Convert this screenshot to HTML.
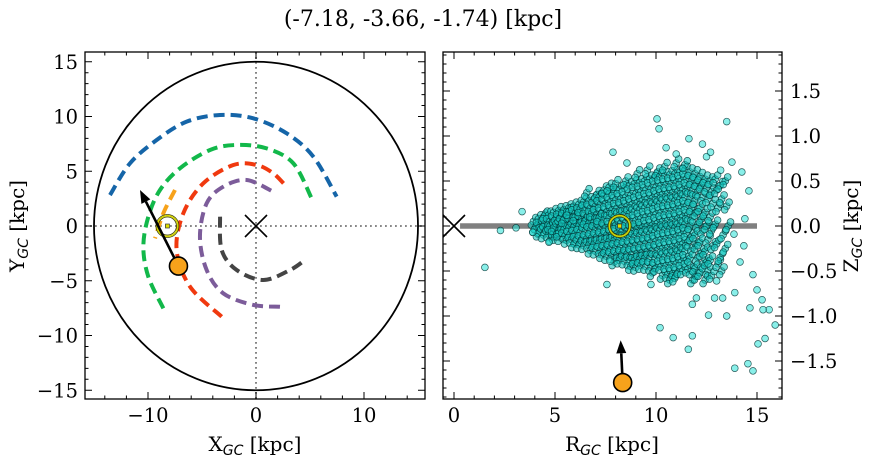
<!DOCTYPE html>
<html><head><meta charset="utf-8"><style>
html,body{margin:0;padding:0;background:#fff;}
svg{display:block;font-family:"DejaVu Serif","Liberation Serif",serif;}
</style></head><body>
<svg id="fig" width="874" height="464" viewBox="0 0 874 464" xmlns="http://www.w3.org/2000/svg">
<text x="423" y="26" font-size="22" text-anchor="middle">(-7.18, -3.66, -1.74) [kpc]</text>
<g id="left"></g>
<g id="right"></g>
<text x="255" y="451" font-size="20" text-anchor="middle">X<tspan font-size="14" font-style="italic" font-family="DejaVu Sans,sans-serif" dy="4">GC</tspan><tspan dy="-4"> [kpc]</tspan></text>
<text transform="translate(24,226) rotate(-90)" font-size="20" text-anchor="middle">Y<tspan font-size="14" font-style="italic" font-family="DejaVu Sans,sans-serif" dy="4">GC</tspan><tspan dy="-4"> [kpc]</tspan></text>
<text x="612" y="451" font-size="20" text-anchor="middle">R<tspan font-size="14" font-style="italic" font-family="DejaVu Sans,sans-serif" dy="4">GC</tspan><tspan dy="-4"> [kpc]</tspan></text>
<text transform="translate(858,226) rotate(-90)" font-size="20" text-anchor="middle">Z<tspan font-size="14" font-style="italic" font-family="DejaVu Sans,sans-serif" dy="4">GC</tspan><tspan dy="-4"> [kpc]</tspan></text>
</svg>
<script>
// ---- data: left panel (orbit traces, X/Y in kpc) ----
const blueX=[-13.52,-11.67,-9.2,-6.42,-3.33,-0.25,2.84,5.31,7.47];
const blueY=[2.83,5.72,7.85,9.53,10.14,9.83,8.46,6.33,2.68];
const greenX=[-8.58,-9.97,-10.43,-9.97,-8.89,-7.04,-4.26,-1.79,0.99,3.46,5.15];
const greenY=[-7.52,-4.63,-1.89,0.85,3.29,5.27,6.94,7.40,7.09,5.72,2.53];
const redX=[-3.18,-6.11,-7.35,-6.73,-4.88,-2.1,0.06,1.6,2.69];
const redY=[-8.28,-5.54,-2.19,1.16,3.90,5.57,5.57,4.81,3.74];
const purpleX=[2.22,-0.25,-3.03,-4.57,-5.19,-4.57,-3.03,-0.86,1.6];
const purpleY=[-7.37,-7.21,-6.15,-4.02,-0.97,2.07,3.59,4.2,3.13];
const grayX=[-3.33,-3.18,-1.79,0.68,3.15,4.54];
const grayY=[0.85,-2.19,-4.02,-4.93,-4.02,-3.1];
const orangeX=[-7.5,-8.58,-9.35];
const orangeY=[3.29,1.16,-1.13];
const sunXY=[-8.2,0];
const objXY=[-7.18,-3.66];
const velTipXY=[-10.74,3.29];
const xyTicks=[-10,0,10];
const yTicks=[-15,-10,-5,0,5,10,15];
// ---- data: right panel (R,z scatter) ----
const outR=[1.53,2.3,3.07,3.37,3.9,4.7,7.57,7.87,8.56,10.05,10.15,13.5,11.63,12.3,10.5,11,12.5,13.76,14.25,14.6,14.4,13.86,14.35,14.16,14.8,13.9,15,15.25,14.65,15.6,15.9,15.3,13.5,12.6,11.8,12.0,12.9,13.3,13.0,10.2,10.85,11.8,11.6,13.9,14.55,14.8,15.05,15.4,9.75,7.72,12.7,13.2];
const outZ=[-0.46,-0.05,-0.02,0.16,-0.07,-0.18,-0.65,0.82,0.70,1.19,1.08,1.16,0.97,0.91,0.87,0.8,0.77,0.71,0.6,0.39,0.08,-0.09,-0.22,-0.4,-0.54,-0.74,-0.71,-0.82,-0.91,-0.93,-1.1,-0.93,-1.0,-0.99,-0.87,-0.8,-0.8,-0.8,-0.61,-1.13,-1.24,-1.22,-1.37,-1.58,-1.53,-1.61,-1.31,-1.25,-0.65,-0.39,0.82,0.62];
const coreR=[4.0,4.25,4.5,4.75,5.0,5.25,5.5,5.75,6.0,6.25,6.5,6.75,7.0,7.25,7.5,7.75,8.0,8.25,8.5,8.75,9.0,9.25,9.5,9.75,10.0,10.25,10.5,10.75,11.0,11.25,11.5,11.75,12.0,12.25,12.5,12.75,13.0,13.25,13.5];
const coreZ=[
[0.05,-0.03,0.0],[0.08,-0.05,0.02,-0.08],[0.1,0.03,-0.04,-0.1,0.12],[0.12,0.05,-0.02,-0.09,0.0,-0.13],
[0.15,0.07,0.0,-0.06,-0.12,0.1,-0.02],[0.17,0.09,0.02,-0.05,-0.13,0.12,-0.08],[0.18,0.1,0.03,-0.04,-0.11,-0.16,0.07],
[0.2,0.12,0.05,-0.02,-0.09,-0.15,0.16],[0.22,0.14,0.06,-0.01,-0.08,-0.16,-0.2,0.1],[0.24,0.15,0.07,0.0,-0.07,-0.15,-0.21,0.19],
[0.27,0.18,0.1,0.02,-0.06,-0.14,-0.22,0.06,0.37],[0.28,0.2,0.11,0.03,-0.05,-0.13,-0.21,-0.27,0.14],
[0.3,0.22,0.13,0.04,-0.04,-0.12,-0.2,-0.28,0.35],[0.32,0.24,0.15,0.06,-0.03,-0.11,-0.19,-0.27,-0.32,0.09],
[0.34,0.25,0.16,0.07,-0.02,-0.1,-0.18,-0.26,-0.34,0.4],[0.36,0.27,0.18,0.09,0.0,-0.09,-0.17,-0.25,-0.33,0.43],
[0.38,0.29,0.2,0.1,0.01,-0.08,-0.16,-0.24,-0.32,-0.4,0.47],[0.4,0.3,0.21,0.12,0.03,-0.06,-0.15,-0.23,-0.31,-0.38],
[0.42,0.32,0.22,0.13,0.04,-0.05,-0.14,-0.23,-0.31,-0.39,0.5],[0.45,0.34,0.24,0.14,0.05,-0.04,-0.13,-0.22,-0.31,-0.4,-0.45],
[0.47,0.36,0.26,0.16,0.06,-0.03,-0.12,-0.21,-0.3,-0.38,-0.46,0.58],[0.48,0.38,0.28,0.18,0.08,-0.02,-0.11,-0.2,-0.29,-0.37,-0.44],
[0.5,0.4,0.3,0.2,0.1,0.0,-0.1,-0.19,-0.28,-0.36,-0.45,0.62],[0.52,0.41,0.31,0.21,0.11,0.01,-0.09,-0.18,-0.27,-0.36,-0.46,-0.52],
[0.54,0.43,0.33,0.23,0.13,0.03,-0.07,-0.17,-0.27,-0.37,-0.47,0.6],[0.55,0.45,0.35,0.25,0.15,0.05,-0.05,-0.15,-0.25,-0.35,-0.45,-0.55],
[0.56,0.46,0.36,0.26,0.16,0.06,-0.04,-0.14,-0.24,-0.34,-0.44,-0.54,0.66],[0.57,0.47,0.37,0.27,0.17,0.07,-0.03,-0.13,-0.23,-0.33,-0.43,-0.53,-0.6],
[0.58,0.48,0.38,0.28,0.18,0.08,-0.02,-0.12,-0.22,-0.32,-0.42,-0.52,-0.58,0.7],[0.6,0.5,0.4,0.3,0.2,0.1,0.0,-0.1,-0.2,-0.3,-0.4,-0.5],
[0.62,0.52,0.42,0.32,0.22,0.12,0.02,-0.08,-0.18,-0.28,-0.38,-0.48,0.68],[0.6,0.5,0.4,0.3,0.2,0.1,0.0,-0.12,-0.24,-0.36,-0.5,-0.6],
[0.58,0.48,0.38,0.28,0.15,0.02,-0.1,-0.22,-0.35,-0.47,-0.56],[0.55,0.45,0.32,0.2,0.08,-0.05,-0.18,-0.3,-0.42,-0.52],
[0.52,0.42,0.3,0.15,0.0,-0.15,-0.28,-0.4,-0.5,-0.6],[0.5,0.38,0.25,0.1,-0.05,-0.22,-0.38,-0.55],
[0.52,0.4,0.2,0.02,-0.2,-0.42],[0.45,0.3,-0.1,-0.35,-0.5],[0.5,0.22,0.0,-0.25]];
const rTicks=[0,5,10,15];
const zTicks=[-1.5,-1.0,-0.5,0.0,0.5,1.0,1.5];
const sunRZ=[8.2,0];
const objRZ=[8.35,-1.74];
const velTipRZ=[8.25,-1.27];
const planeR=[0.3,15];

const NS='http://www.w3.org/2000/svg';
function mk(parent,tag,attrs){const e=document.createElementNS(NS,tag);for(const k in attrs)e.setAttribute(k,attrs[k]);parent.appendChild(e);return e;}
function fmt(v,d){const s=v.toFixed(d);return v<0?'\u2212'+s.slice(1):s;}
function smooth(P){
  let d=`M${P[0][0]},${P[0][1]}`;
  for(let i=0;i<P.length-1;i++){
    const p0=P[Math.max(0,i-1)],p1=P[i],p2=P[i+1],p3=P[Math.min(P.length-1,i+2)];
    const c1=[p1[0]+(p2[0]-p0[0])/6,p1[1]+(p2[1]-p0[1])/6],c2=[p2[0]-(p3[0]-p1[0])/6,p2[1]-(p3[1]-p1[1])/6];
    d+=`C${c1[0]},${c1[1]} ${c2[0]},${c2[1]} ${p2[0]},${p2[1]}`;
  }
  return d;
}

// ---------- LEFT ----------
const L=document.getElementById('left');
const LX0=85,LX1=425,LY0=52,LY1=399;
const lx=v=>256+v*10.8, ly=v=>226-v*10.95;
let e;
e=mk(L,'line',{x1:LX0,x2:LX1,y1:ly(0),y2:ly(0),stroke:'#777','stroke-width':1.8,'stroke-dasharray':'1.8 3.2'});


e=mk(L,'line',{x1:lx(0),x2:lx(0),y1:LY0,y2:LY1,stroke:'#777','stroke-width':1.8,'stroke-dasharray':'1.8 3.2'});


e=mk(L,'ellipse',{cx:lx(0),cy:ly(0),rx:15*10.8,ry:15*10.95,fill:'none',stroke:'#000','stroke-width':1.8});


function orbit(xs,ys,color,name){
  const p=mk(L,'path',{d:smooth(xs.map((x,i)=>[lx(x),ly(ys[i])])),fill:'none',stroke:color,'stroke-width':4,'stroke-dasharray':'11 6'});
  
  
}
orbit(blueX,blueY,'#1565a8','orbit-blue');
orbit(greenX,greenY,'#12b84a','orbit-green');
orbit(redX,redY,'#f0390f','orbit-red');
orbit(purpleX,purpleY,'#7c5c9a','orbit-purple');
orbit(grayX,grayY,'#444','orbit-gray');
orbit(orangeX,orangeY,'#f7a21b','orbit-orange');
e=mk(L,'path',{d:`M${lx(0)-11},${ly(0)-11}L${lx(0)+11},${ly(0)+11}M${lx(0)-11},${ly(0)+11}L${lx(0)+11},${ly(0)-11}`,stroke:'#000','stroke-width':1.6});


function sun(g,sx,sy,name){
  const s=mk(g,'g',{});
  
  
  mk(s,'circle',{cx:sx,cy:sy,r:11.5,fill:'none',stroke:'#3b3b00','stroke-width':0.8});
  mk(s,'circle',{cx:sx,cy:sy,r:10.3,fill:'none',stroke:'#d4d400','stroke-width':1.6});
  mk(s,'circle',{cx:sx,cy:sy,r:9,fill:'none',stroke:'#3b3b00','stroke-width':0.8});
  mk(s,'rect',{x:sx-2,y:sy-2,width:4,height:4,fill:'#e0e000',stroke:'#333','stroke-width':0.7});
}
sun(L,lx(sunXY[0]),ly(sunXY[1]),'sun-marker');
function arrow(g,x0,y0,x1,y1,name){
  const a=mk(g,'g',{});
  
  
  const dx=x1-x0,dy=y1-y0,len=Math.hypot(dx,dy),ux=dx/len,uy=dy/len;
  const bx=x1-ux*13,by=y1-uy*13;
  mk(a,'line',{x1:x0,y1:y0,x2:bx,y2:by,stroke:'#000','stroke-width':2.6});
  mk(a,'polygon',{points:`${x1},${y1} ${bx-uy*5},${by+ux*5} ${bx+uy*5},${by-ux*5}`,fill:'#000'});
}
arrow(L,lx(objXY[0]),ly(objXY[1]),lx(velTipXY[0]),ly(velTipXY[1]),'velocity-arrow-xy');
e=mk(L,'circle',{cx:lx(objXY[0]),cy:ly(objXY[1]),r:9,fill:'#f7a21b',stroke:'#000','stroke-width':1.6});


e=mk(L,'rect',{x:LX0,y:LY0,width:LX1-LX0,height:LY1-LY0,fill:'none',stroke:'#000','stroke-width':1.3});


let tk='';
for(let v=-14;v<=14;v+=2){const X=lx(v),maj=v%10===0;const h=maj?7:3.5;tk+=`M${X},${LY1}v${-h}M${X},${LY0}v${h}`;}
for(let v=-15;v<=15;v+=1){const Y=ly(v),maj=v%5===0;const h=maj?7:3.5;tk+=`M${LX0},${Y}h${h}M${LX1},${Y}h${-h}`;}
e=mk(L,'path',{d:tk,stroke:'#000','stroke-width':1});


xyTicks.forEach(v=>{const t=mk(L,'text',{x:lx(v),y:422,'font-size':19.5,'text-anchor':'middle'});t.textContent=fmt(v,0);

});
yTicks.forEach(v=>{const t=mk(L,'text',{x:78,y:ly(v)+7,'font-size':19.5,'text-anchor':'end'});t.textContent=fmt(v,0);

});

// ---------- RIGHT ----------
const R=document.getElementById('right');
const RX0=443,RX1=782,RY0=52,RY1=399;
const rx=v=>454+v*20.2, rz=v=>226-v*90;
e=mk(R,'line',{x1:rx(planeR[0]),x2:rx(planeR[1]),y1:rz(0),y2:rz(0),stroke:'#808080','stroke-width':5.5});


const sc=mk(R,'g',{fill:'rgba(20,200,192,0.6)',stroke:'rgba(0,50,50,0.8)','stroke-width':0.7});


const offs=[[0,0],[0.12,0.045],[-0.1,-0.04]];
coreR.forEach((r,i)=>coreZ[i].forEach((z,j)=>{
  offs.forEach(o=>{
    const c=mk(sc,'circle',{cx:rx(r+((j%3)-1)*0.07+o[0]),cy:rz(z+o[1]),r:3.4});
    
    
  });
}));
outR.forEach((r,i)=>{
  const c=mk(sc,'circle',{cx:rx(r),cy:rz(outZ[i]),r:3.4,fill:'rgba(40,225,215,0.55)'});
  
  
});
e=mk(R,'path',{d:`M${rx(0)-11},${rz(0)-11}L${rx(0)+11},${rz(0)+11}M${rx(0)-11},${rz(0)+11}L${rx(0)+11},${rz(0)-11}`,stroke:'#000','stroke-width':1.6});


sun(R,rx(sunRZ[0]),rz(sunRZ[1]),'sun-marker-rz');
arrow(R,rx(objRZ[0]),rz(objRZ[1]),rx(velTipRZ[0]),rz(velTipRZ[1]),'velocity-arrow-rz');
e=mk(R,'circle',{cx:rx(objRZ[0]),cy:rz(objRZ[1]),r:9,fill:'#f7a21b',stroke:'#000','stroke-width':1.6});


e=mk(R,'rect',{x:RX0,y:RY0,width:RX1-RX0,height:RY1-RY0,fill:'none',stroke:'#000','stroke-width':1.3});


tk='';
for(let v=0;v<=15;v+=1){const X=rx(v),maj=v%5===0;const h=maj?7:3.5;tk+=`M${X},${RY1}v${-h}M${X},${RY0}v${h}`;}
for(let k=-19;k<=19;k++){const v=k/10,Y=rz(v),maj=k%5===0;const h=maj?7:3.5;tk+=`M${RX0},${Y}h${h}M${RX1},${Y}h${-h}`;}
e=mk(R,'path',{d:tk,stroke:'#000','stroke-width':1});


rTicks.forEach(v=>{const t=mk(R,'text',{x:rx(v),y:422,'font-size':19.5,'text-anchor':'middle'});t.textContent=fmt(v,0);

});
zTicks.forEach(v=>{const t=mk(R,'text',{x:790,y:rz(v)+7,'font-size':19.5,'text-anchor':'start'});t.textContent=fmt(v,1);

});
</script>
</body></html>
